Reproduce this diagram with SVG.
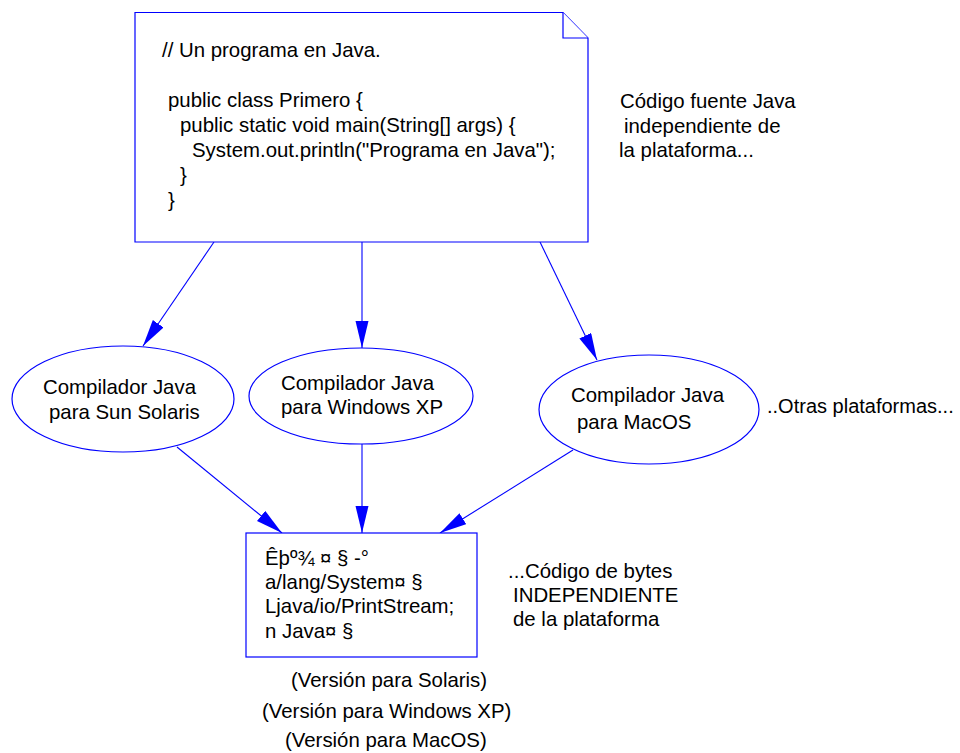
<svg xmlns="http://www.w3.org/2000/svg" width="960" height="753" viewBox="0 0 960 753">
<defs>
<style>
text{font-family:"Liberation Sans",Arial,sans-serif;font-size:20.4px;fill:#000}
.tight{font-size:20px}
.shape{fill:#fff;stroke:#0000ff;stroke-width:1.2}
.conn{stroke:#0000ff;stroke-width:1.1;fill:none;marker-end:url(#ah)}
</style>
<marker id="ah" markerUnits="userSpaceOnUse" markerWidth="28" markerHeight="14" refX="27" refY="6.5" orient="auto">
<path d="M0,0 L27,6.5 L0,13 z" fill="#0000ff"/>
</marker>
</defs>
<rect width="960" height="753" fill="#fff"/>
<g id="connectors">
<line class="conn" x1="214" y1="242" x2="143" y2="346"/>
<line class="conn" x1="362" y1="242" x2="362" y2="348"/>
<line class="conn" x1="540" y1="242" x2="597" y2="360"/>
<line class="conn" x1="177" y1="447" x2="282" y2="533"/>
<line class="conn" x1="362" y1="444" x2="362" y2="533"/>
<line class="conn" x1="573" y1="450" x2="440" y2="533"/>
</g>
<g id="source">
<path class="shape" d="M135,12.5 L563,12.5 L588,38 L588,242 L135,242 Z"/>
<path class="shape" d="M563,12.5 L563,38 L588,38"/>
<text x="162" y="57">// Un programa en Java.</text>
<text x="168" y="107">public class Primero {</text>
<text x="180" y="132">public static void main(String[] args) {</text>
<text x="192" y="157">System.out.println("Programa en Java");</text>
<text x="180" y="182">}</text>
<text x="168" y="207">}</text>
</g>
<g id="note-source">
<text x="620" y="108">Código fuente Java</text>
<text x="624" y="133">independiente de</text>
<text x="619" y="157">la plataforma...</text>
</g>
<g id="comp-solaris">
<ellipse class="shape" cx="123" cy="399" rx="111" ry="53"/>
<text x="43" y="394">Compilador Java</text>
<text x="49" y="419">para Sun Solaris</text>
</g>
<g id="comp-windows">
<ellipse class="shape" cx="361" cy="396" rx="112" ry="48"/>
<text x="281" y="390">Compilador Java</text>
<text x="281" y="414">para Windows XP</text>
</g>
<g id="comp-macos">
<ellipse class="shape" cx="649" cy="409.5" rx="110" ry="54.5"/>
<text x="571" y="402">Compilador Java</text>
<text x="577" y="429">para MacOS</text>
</g>
<g id="note-otras">
<text class="tight" x="767" y="413">..Otras plataformas...</text>
</g>
<g id="bytecode">
<rect class="shape" x="246" y="533" width="231" height="124"/>
<text x="265" y="565">Êþº¾ ¤ § -°</text>
<text x="265" y="589">a/lang/System¤ §</text>
<text x="265" y="613">Ljava/io/PrintStream;</text>
<text x="265" y="638">n Java¤ §</text>
</g>
<g id="note-bytes">
<text x="508" y="578">...Código de bytes</text>
<text x="513" y="602">INDEPENDIENTE</text>
<text x="513" y="626">de la plataforma</text>
</g>
<g id="versions">
<text x="291" y="687">(Versión para Solaris)</text>
<text x="262" y="718">(Versión para Windows XP)</text>
<text x="285" y="747">(Versión para MacOS)</text>
</g>
</svg>
